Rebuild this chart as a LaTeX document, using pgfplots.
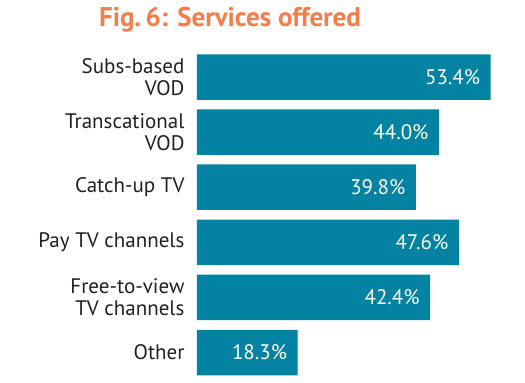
\documentclass[border=0pt]{standalone}
\usepackage{pgfplots}
\pgfplotsset{compat=1.18}
\usepackage{fontspec}
\setmainfont{PT Sans}
\definecolor{barteal}{HTML}{0383A1}
\definecolor{titleorange}{HTML}{F57D4B}
\definecolor{labeldark}{HTML}{231F20}
\begin{document}
\begin{tikzpicture}
\useasboundingbox (0pt,0pt) rectangle (525pt,383pt);
\node[anchor=base, font=\fontsize{27}{30}\selectfont\bfseries, text=titleorange, inner sep=0pt] at (230pt,356pt) {Fig.\,6: Services offered};
\begin{axis}[
  at={(197pt,2.95pt)}, anchor=south west,
  scale only axis, width=330pt, height=330.6pt,
  xmin=0, xmax=60, ymin=-0.5, ymax=5.5, y dir=reverse,
  xbar, bar width=45.5pt,
  axis line style={draw=none},
  major tick length=0pt,
  xtick=\empty,
  ytick={0,1,2,3,4,5},
  yticklabels={{Subs-based\\VOD},{Transcational\\VOD},{Catch-up TV},{Pay TV channels},{Free-to-view\\TV channels},{Other}},
  yticklabel style={align=right, font=\fontsize{21}{22}\selectfont, text=labeldark, xshift=-9pt},
  /pgf/number format/assume math mode=true,
  nodes near coords={\pgfmathprintnumber[fixed,fixed zerofill,precision=1]{\pgfplotspointmeta}\%},
  nodes near coords style={anchor=east, xshift=-7pt, text=white, font=\fontsize{21}{22}\selectfont},
  clip=false,
]
\addplot[fill=barteal, draw=none] coordinates {
(53.4,0) (44.0,1) (39.8,2) (47.6,3) (42.4,4) (18.3,5)
};
\end{axis}
\end{tikzpicture}
\end{document}
